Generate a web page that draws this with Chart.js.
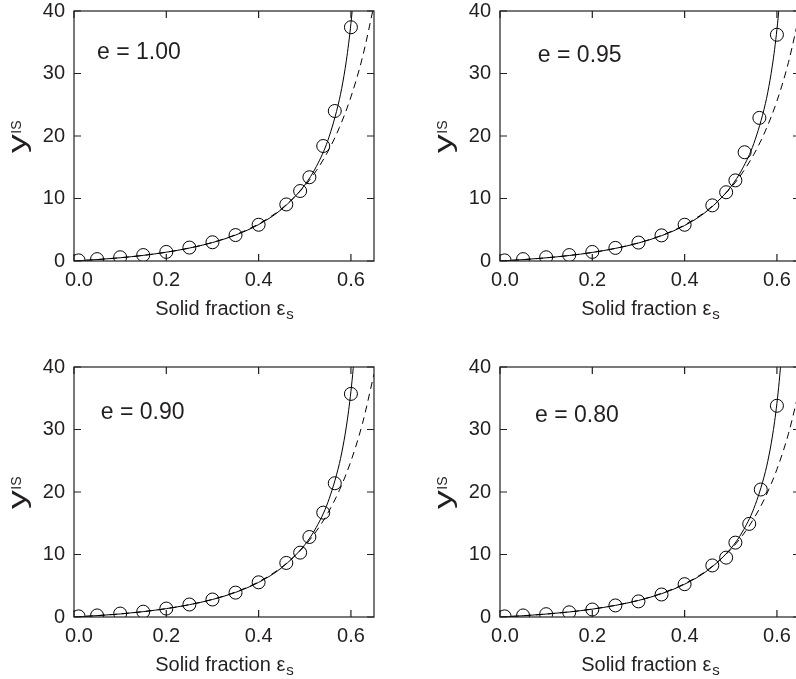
<!DOCTYPE html>
<html>
<head>
<meta charset="utf-8">
<script src="https://cdn.jsdelivr.net/npm/chart.js"></script>
<style>
  html, body { margin: 0; padding: 0; background: #fff; overflow: hidden; width: 796px; height: 679px; }
  .panel { position: absolute; width: 420px; height: 330px; }
</style>
</head>
<body>
<div class="panel" style="left:0;top:0"><canvas id="p1" width="420" height="330"></canvas></div>
<div class="panel" style="left:426px;top:0"><canvas id="p2" width="420" height="330"></canvas></div>
<div class="panel" style="left:0;top:356px"><canvas id="p3" width="420" height="330"></canvas></div>
<div class="panel" style="left:426px;top:356px"><canvas id="p4" width="420" height="330"></canvas></div>
<script>
// simulation points (circles)
const pointX = [0.01, 0.05, 0.1, 0.15, 0.2, 0.25, 0.3, 0.35, 0.4, 0.46, 0.49, 0.51, 0.54, 0.565, 0.6];
const pointX095 = [0.01, 0.05, 0.1, 0.15, 0.2, 0.25, 0.3, 0.35, 0.4, 0.46, 0.49, 0.51, 0.53, 0.562, 0.6];
const points100 = [0.1, 0.3, 0.6, 0.95, 1.45, 2.15, 3.0, 4.15, 5.8, 9.05, 11.2, 13.4, 18.4, 24.0, 37.4];
const points095 = [0.1, 0.3, 0.6, 0.95, 1.45, 2.1, 2.95, 4.1, 5.8, 8.9, 11.0, 12.9, 17.4, 22.9, 36.2];
const points090 = [0.1, 0.25, 0.55, 0.85, 1.35, 2.0, 2.8, 3.9, 5.55, 8.65, 10.3, 12.8, 16.7, 21.4, 35.7];
const points080 = [0.1, 0.25, 0.45, 0.75, 1.2, 1.85, 2.5, 3.6, 5.25, 8.25, 9.5, 11.9, 14.9, 20.4, 33.8];

// solid curve
const curveX = [0, 0.05, 0.1, 0.15, 0.2, 0.25, 0.3, 0.35, 0.4, 0.45, 0.5, 0.525, 0.55, 0.575, 0.585, 0.59, 0.595, 0.6, 0.605, 0.61];
const solid100 = [0, 0.23, 0.52, 0.90, 1.41, 2.07, 2.95, 4.15, 5.83, 8.29, 12.17, 15.11, 19.29, 25.83, 29.67, 32.02, 34.76, 38.0, 41.9, 46.8];
const solid095 = [0, 0.22, 0.51, 0.88, 1.37, 2.02, 2.88, 4.05, 5.68, 8.08, 11.87, 14.73, 18.81, 25.18, 28.93, 31.22, 33.89, 37.05, 40.85, 45.6];
const solid090 = [0, 0.22, 0.49, 0.86, 1.34, 1.97, 2.80, 3.94, 5.54, 7.88, 11.56, 14.35, 18.33, 24.54, 28.19, 30.42, 33.02, 36.1, 39.8, 44.4];
const solid080 = [0, 0.20, 0.47, 0.81, 1.26, 1.86, 2.65, 3.73, 5.25, 7.46, 10.95, 13.60, 17.36, 23.25, 26.70, 28.82, 31.28, 34.2, 37.7, 42.1];

// dashed curve
const dashX = [0, 0.05, 0.1, 0.15, 0.2, 0.25, 0.3, 0.35, 0.4, 0.45, 0.5, 0.525, 0.55, 0.575, 0.6, 0.625, 0.65];
const dashed100 = [0, 0.23, 0.52, 0.90, 1.41, 2.07, 2.97, 4.21, 5.93, 8.39, 12.0, 14.45, 17.5, 21.35, 26.25, 32.59, 40.93];
const dashed095 = [0, 0.22, 0.51, 0.88, 1.37, 2.02, 2.90, 4.10, 5.78, 8.18, 11.70, 14.09, 17.06, 20.82, 25.59, 31.78, 39.91];
const dashed090 = [0, 0.22, 0.49, 0.86, 1.34, 1.97, 2.82, 4.00, 5.63, 7.97, 11.40, 13.73, 16.63, 20.28, 24.94, 30.96, 38.88];
const dashed080 = [0, 0.20, 0.47, 0.81, 1.27, 1.87, 2.67, 3.79, 5.33, 7.55, 10.80, 13.01, 15.75, 19.22, 23.63, 29.33, 36.84];

const xTicks = [0, 0.2, 0.4, 0.6];
const yTicks = [0, 10, 20, 30, 40];
const panelLabels = ['e = 1.00', 'e = 0.95', 'e = 0.90', 'e = 0.80'];

const INK = '#231f20';
const FONT = '"Liberation Sans", Arial, sans-serif';
Chart.defaults.font.family = FONT;
Chart.defaults.color = INK;

const toXY = (xs, ys) => xs.map((x, i) => ({ x: x, y: ys[i] }));

// frame, inward ticks, axis titles and the e = ... label
const decor = {
  id: 'decor',
  afterDatasetsDraw(chart, args, opts) {
    const { ctx, chartArea: a, scales: { x, y } } = chart;
    ctx.save();
    ctx.strokeStyle = INK;
    ctx.lineWidth = 1.2;
    ctx.strokeRect(a.left, a.top, a.width, a.height);
    ctx.beginPath();
    x.ticks.forEach(t => {
      const px = x.getPixelForValue(t.value);
      ctx.moveTo(px, a.bottom); ctx.lineTo(px, a.bottom - 7);
      ctx.moveTo(px, a.top); ctx.lineTo(px, a.top + 7);
    });
    y.ticks.forEach(t => {
      const py = y.getPixelForValue(t.value);
      ctx.moveTo(a.left, py); ctx.lineTo(a.left + 7, py);
      ctx.moveTo(a.right, py); ctx.lineTo(a.right - 7, py);
    });
    ctx.stroke();

    ctx.fillStyle = INK;
    ctx.textBaseline = 'alphabetic';

    // panel label
    ctx.font = '23px ' + FONT;
    ctx.textAlign = 'left';
    ctx.fillText(opts.label, x.getPixelForValue(opts.lx), y.getPixelForValue(opts.ly));

    // x title: Solid fraction eps_s
    ctx.font = '20px ' + FONT;
    const main = 'Solid fraction \u03b5';
    const wm = ctx.measureText(main).width;
    ctx.font = '15px ' + FONT;
    const wsub = ctx.measureText('s').width;
    const x0 = (a.left + a.right) / 2 - (wm + wsub) / 2;
    ctx.font = '20px ' + FONT;
    ctx.fillText(main, x0, a.bottom + 54);
    ctx.font = '15px ' + FONT;
    ctx.fillText('s', x0 + wm + 1, a.bottom + 58);

    // y title: y^IS
    ctx.save();
    ctx.translate(a.left - 48, (a.top + a.bottom) / 2 + 1);
    ctx.rotate(-Math.PI / 2);
    ctx.font = '25px ' + FONT;
    const stretch = 1.5;
    const wy = ctx.measureText('y').width * stretch;
    ctx.font = '14px ' + FONT;
    const wis = ctx.measureText('IS').width;
    const start = -(wy + wis) / 2;
    ctx.save();
    ctx.translate(start, 0);
    ctx.scale(stretch, 1);
    ctx.font = '25px ' + FONT;
    ctx.fillText('y', 0, 0);
    ctx.restore();
    ctx.font = '14px ' + FONT;
    ctx.fillText('IS', start + wy + 0.5, -5);
    ctx.restore();

    ctx.restore();
  }
};

function makePanel(id, px, py, sy, dy, label, lx, ly) {
  new Chart(document.getElementById(id), {
    type: 'line',
    data: {
      datasets: [
        {
          data: toXY(curveX, sy),
          borderColor: '#000', borderWidth: 1,
          pointRadius: 0, cubicInterpolationMode: 'monotone', fill: false
        },
        {
          data: toXY(dashX, dy),
          borderColor: '#000', borderWidth: 1, borderDash: [7, 5],
          pointRadius: 0, cubicInterpolationMode: 'monotone', fill: false
        },
        {
          data: toXY(px, py),
          showLine: false,
          pointStyle: 'circle', pointRadius: 6.5,
          pointBorderColor: '#000', pointBorderWidth: 1,
          pointBackgroundColor: 'rgba(0,0,0,0)'
        }
      ]
    },
    options: {
      responsive: false,
      animation: false,
      devicePixelRatio: 1,
      layout: { padding: { top: 11, right: 46, left: 0, bottom: 0 } },
      plugins: {
        legend: { display: false },
        tooltip: { enabled: false },
        decor: { label: label, lx: lx, ly: ly }
      },
      scales: {
        x: {
          type: 'linear', min: 0, max: 0.65,
          grid: { display: false, drawTicks: false },
          border: { display: false },
          afterBuildTicks: s => { s.ticks = xTicks.map(v => ({ value: v })); },
          afterFit: s => { s.height = 69; s.paddingLeft = 0; s.paddingRight = 0; },
          ticks: {
            font: { size: 20 }, color: INK, padding: 7, maxRotation: 0, autoSkip: false,
            callback: v => (v === 0 ? '\u2002' : '') + Number(v).toFixed(1)
          }
        },
        y: {
          type: 'linear', min: 0, max: 40,
          grid: { display: false, drawTicks: false },
          border: { display: false },
          afterBuildTicks: s => { s.ticks = yTicks.map(v => ({ value: v })); },
          afterFit: s => { s.width = 74; s.paddingTop = 0; s.paddingBottom = 0; },
          ticks: { font: { size: 20 }, color: INK, padding: 9 }
        }
      }
    },
    plugins: [decor]
  });
}

makePanel('p1', pointX, points100, solid100, dashed100, panelLabels[0], 0.05, 32.3);
makePanel('p2', pointX095, points095, solid095, dashed095, panelLabels[1], 0.082, 31.8);
makePanel('p3', pointX, points090, solid090, dashed090, panelLabels[2], 0.058, 31.7);
makePanel('p4', pointX, points080, solid080, dashed080, panelLabels[3], 0.076, 31.2);
</script>
</body>
</html>
